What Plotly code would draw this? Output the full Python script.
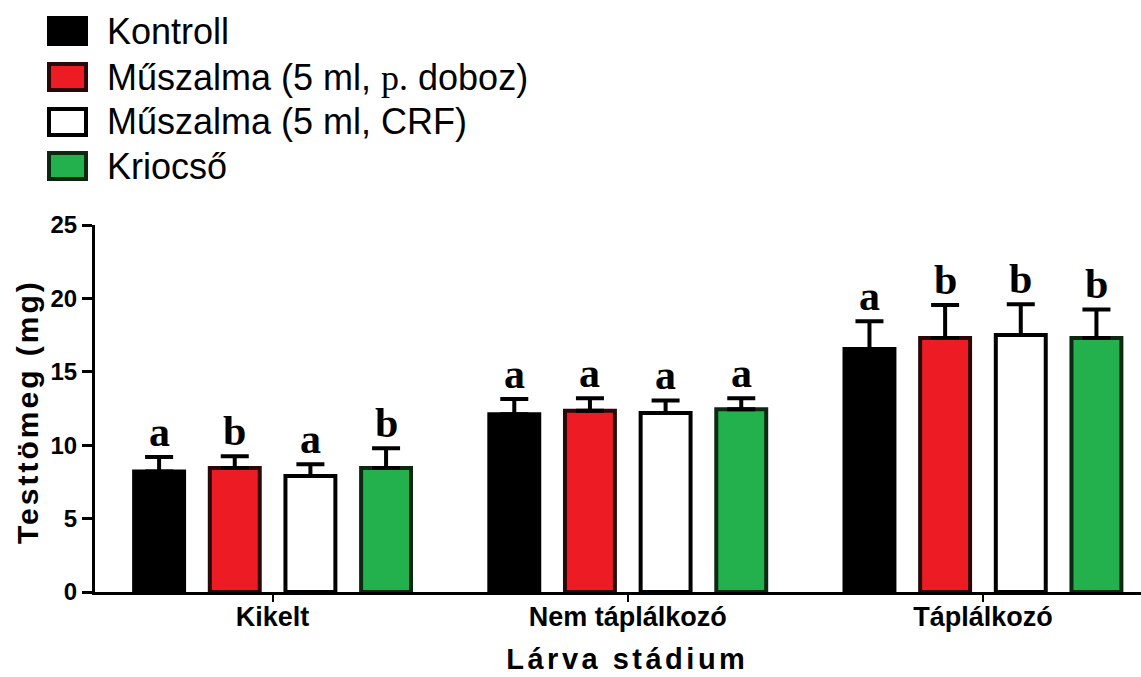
import plotly.graph_objects as go

# ---- data ----
stages = ["Kikelt", "Nem táplálkozó", "Táplálkozó"]
series_names = ["Kontroll", "Műszalma (5 ml, p. doboz)", "Műszalma (5 ml, CRF)", "Kriocső"]
kontroll = [8.2, 12.1, 16.55]
muszalma_doboz = [8.45, 12.35, 17.3]
muszalma_crf = [7.9, 12.2, 17.5]
kriocso = [8.45, 12.45, 17.3]
kontroll_err = [1.0, 1.05, 1.9]
muszalma_doboz_err = [0.8, 0.85, 2.25]
muszalma_crf_err = [0.8, 0.85, 2.1]
kriocso_err = [1.35, 0.75, 1.95]
kontroll_letters = ["a", "a", "a"]
muszalma_doboz_letters = ["b", "a", "b"]
muszalma_crf_letters = ["a", "a", "b"]
kriocso_letters = ["b", "a", "b"]
y_ticks = [0, 5, 10, 15, 20, 25]
y_title = "Testtömeg (mg)"
x_title = "Lárva stádium"

values = [kontroll, muszalma_doboz, muszalma_crf, kriocso]
errors = [kontroll_err, muszalma_doboz_err, muszalma_crf_err, kriocso_err]
letters = [kontroll_letters, muszalma_doboz_letters, muszalma_crf_letters, kriocso_letters]

# ---- style ----
fills = ["#000000", "#ED1C24", "#FFFFFF", "#22B14C"]
outlines = ["#000000", "#2a0808", "#000000", "#0c2812"]
SANS = "Liberation Sans, Arial, sans-serif"
SERIF = "Liberation Serif, Times New Roman, serif"
W, H = 1141, 677
ML, MR, MT, MB = 95, 0, 225, 85
XR = [-0.5, 2.445]
YR = [0, 25]
BARGAP = 0.148
BARGROUPGAP = 0.34
plot_w = W - ML - MR
plot_h = H - MT - MB
px_per_unit = plot_w / (XR[1] - XR[0])
slot_px = (1 - BARGAP) / len(values) * px_per_unit

def px2paper_x(px):
    return (px - ML) / plot_w

def px2paper_y(py):
    return (H - MB - py) / plot_h

fig = go.Figure()
for i, (name, v, e) in enumerate(zip(series_names, values, errors)):
    fig.add_trace(go.Bar(
        x=stages, y=v, name=name, showlegend=False,
        marker=dict(color=fills[i], line=dict(color=outlines[i], width=4)),
        error_y=dict(type="data", array=e, arrayminus=[0] * len(e), symmetric=False,
                     color="black", thickness=4, width=14),
    ))

# significance letters
for i in range(len(values)):
    for k, st in enumerate(stages):
        fig.add_annotation(
            x=st, y=values[i][k] + errors[i][k], xref="x", yref="y",
            text=letters[i][k], showarrow=False,
            xshift=(i - (len(values) - 1) / 2) * slot_px, yshift=0,
            yanchor="bottom", xanchor="center",
            font=dict(family=SERIF, size=42, color="black", weight="bold"),
        )

# axis titles
fig.add_annotation(x=px2paper_x(27), y=px2paper_y(412), xref="paper", yref="paper",
                   text=y_title, textangle=-90, showarrow=False,
                   xanchor="center", yanchor="middle",
                   font=dict(family=SANS, size=30, color="black", weight="bold"))
fig.add_annotation(x=px2paper_x(627), y=px2paper_y(659), xref="paper", yref="paper",
                   text=x_title, showarrow=False, xanchor="center", yanchor="middle",
                   font=dict(family=SANS, size=29, color="black", weight="bold"))

# custom legend
leg_rows_y = [31, 77, 122, 166]
for i, name in enumerate(series_names):
    cy = leg_rows_y[i]
    fig.add_shape(type="rect", xref="paper", yref="paper",
                  x0=px2paper_x(49), x1=px2paper_x(86),
                  y0=px2paper_y(cy - 13), y1=px2paper_y(cy + 13),
                  fillcolor=fills[i], line=dict(color=outlines[i], width=4))
    label = name.replace("p. doboz", "<span style='font-family:Liberation Serif'>p.</span> doboz")
    fig.add_annotation(x=px2paper_x(105), y=px2paper_y(cy), xref="paper", yref="paper",
                       text=label, showarrow=False, xanchor="left", yanchor="middle",
                       font=dict(family=SANS, size=36, color="black"))

fig.update_layout(
    width=W, height=H,
    margin=dict(l=ML, r=MR, t=MT, b=MB, pad=0),
    paper_bgcolor="white", plot_bgcolor="white",
    barmode="group", bargap=BARGAP, bargroupgap=BARGROUPGAP,
    showlegend=False,
    xaxis=dict(range=XR, showline=True, linecolor="black", linewidth=3,
               ticks="outside", ticklen=7, tickwidth=2, tickcolor="black",
               ticklabelstandoff=-8,
               showgrid=False, zeroline=False,
               tickfont=dict(family=SANS, size=27, color="black", weight="bold")),
    yaxis=dict(range=YR, showline=True, linecolor="black", linewidth=3,
               tickvals=y_ticks, ticks="outside", ticklen=10, tickwidth=3, tickcolor="black",
               showgrid=False, zeroline=False,
               tickfont=dict(family=SANS, size=24, color="black", weight="bold")),
)

post = """
document.body.style.margin='0';
document.querySelectorAll('.annotation-text').forEach(function(t){
  var s = t.textContent;
  if (s === 'Lárva stádium') { t.style.letterSpacing = '3.5px'; }
  if (s === 'Testtömeg (mg)') { t.style.letterSpacing = '3px'; }
});
"""
fig.write_html("out.html", config={"displayModeBar": False}, post_script=post)
